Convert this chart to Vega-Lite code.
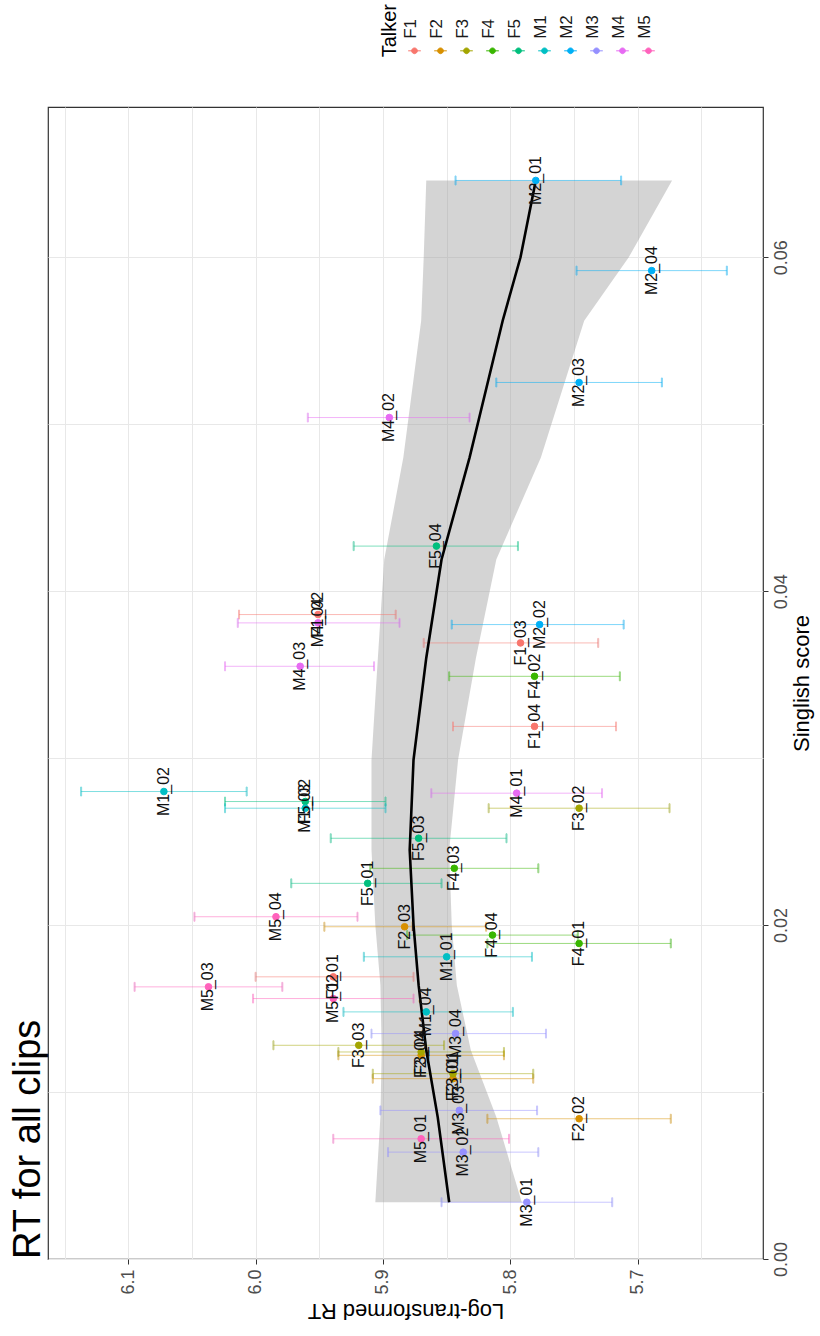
{
  "$schema": "https://vega.github.io/schema/vega-lite/v6.json",
  "autosize": {"type": "none"},
  "width": 715,
  "height": 1152,
  "padding": {"left": 48, "top": 107, "right": 57, "bottom": 77},
  "background": "white",
  "config": {
    "font": "Liberation Sans",
    "view": {"stroke": "#333333", "strokeWidth": 1.2},
    "axis": {
      "gridColor": "#e8e8e8",
      "gridWidth": 1,
      "domain": false,
      "labelColor": "#4d4d4d",
      "labelFont": "Liberation Sans",
      "labelFontSize": 18,
      "titleFont": "Liberation Sans",
      "titleFontSize": 22,
      "titleFontWeight": "normal",
      "titleColor": "#000000",
      "tickColor": "#333333",
      "tickSize": 5
    },
    "legend": {
      "orient": "none",
      "legendX": 332,
      "legendY": -65,
      "direction": "horizontal",
      "titleOrient": "left",
      "titleFontSize": 20,
      "titleFontWeight": "normal",
      "titleColor": "#000000",
      "labelFontSize": 17,
      "labelColor": "#1a1a1a",
      "labelOffset": 0,
      "symbolType": "M-1,0H1M0.45,0A0.45,0.45,0,1,1,-0.45,0A0.45,0.45,0,1,1,0.45,0Z",
      "symbolSize": 160,
      "symbolStrokeWidth": 1,
      "columnPadding": 4
    }
  },
  "title": {
    "text": "RT for all clips",
    "orient": "left",
    "anchor": "start",
    "frame": "group",
    "fontSize": 38,
    "fontWeight": "normal",
    "font": "Liberation Sans",
    "color": "#000000",
    "offset": 0
  },
  "datasets": {
    "clips": [
      {"talker": "F1", "clip": "F1_01", "rt": 5.939, "s": 0.0169, "lo": 5.876, "hi": 6.000},
      {"talker": "F1", "clip": "F1_02", "rt": 5.951, "s": 0.0386, "lo": 5.890, "hi": 6.013},
      {"talker": "F1", "clip": "F1_03", "rt": 5.792, "s": 0.0369, "lo": 5.731, "hi": 5.868},
      {"talker": "F1", "clip": "F1_04", "rt": 5.781, "s": 0.0319, "lo": 5.717, "hi": 5.845},
      {"talker": "F2", "clip": "F2_01", "rt": 5.845, "s": 0.0108, "lo": 5.782, "hi": 5.908},
      {"talker": "F2", "clip": "F2_02", "rt": 5.746, "s": 0.0084, "lo": 5.674, "hi": 5.818},
      {"talker": "F2", "clip": "F2_03", "rt": 5.883, "s": 0.0199, "lo": 5.819, "hi": 5.946},
      {"talker": "F2", "clip": "F2_04", "rt": 5.870, "s": 0.0122, "lo": 5.805, "hi": 5.935},
      {"talker": "F3", "clip": "F3_01", "rt": 5.845, "s": 0.0111, "lo": 5.782, "hi": 5.908},
      {"talker": "F3", "clip": "F3_02", "rt": 5.746, "s": 0.0270, "lo": 5.675, "hi": 5.817},
      {"talker": "F3", "clip": "F3_03", "rt": 5.919, "s": 0.0128, "lo": 5.852, "hi": 5.986},
      {"talker": "F3", "clip": "F3_04", "rt": 5.870, "s": 0.0124, "lo": 5.805, "hi": 5.935},
      {"talker": "F4", "clip": "F4_01", "rt": 5.746, "s": 0.0189, "lo": 5.674, "hi": 5.818},
      {"talker": "F4", "clip": "F4_02", "rt": 5.781, "s": 0.0349, "lo": 5.714, "hi": 5.848},
      {"talker": "F4", "clip": "F4_03", "rt": 5.844, "s": 0.0234, "lo": 5.778, "hi": 5.910},
      {"talker": "F4", "clip": "F4_04", "rt": 5.814, "s": 0.0194, "lo": 5.747, "hi": 5.881},
      {"talker": "F5", "clip": "F5_01", "rt": 5.912, "s": 0.0225, "lo": 5.854, "hi": 5.972},
      {"talker": "F5", "clip": "F5_02", "rt": 5.961, "s": 0.0274, "lo": 5.898, "hi": 6.024},
      {"talker": "F5", "clip": "F5_03", "rt": 5.872, "s": 0.0252, "lo": 5.803, "hi": 5.941},
      {"talker": "F5", "clip": "F5_04", "rt": 5.858, "s": 0.0427, "lo": 5.794, "hi": 5.923},
      {"talker": "M1", "clip": "M1_01", "rt": 5.850, "s": 0.0181, "lo": 5.783, "hi": 5.915},
      {"talker": "M1", "clip": "M1_02", "rt": 6.072, "s": 0.0280, "lo": 6.007, "hi": 6.137},
      {"talker": "M1", "clip": "M1_03", "rt": 5.961, "s": 0.0270, "lo": 5.898, "hi": 6.024},
      {"talker": "M1", "clip": "M1_04", "rt": 5.866, "s": 0.0148, "lo": 5.798, "hi": 5.931},
      {"talker": "M2", "clip": "M2_01", "rt": 5.780, "s": 0.0646, "lo": 5.713, "hi": 5.843},
      {"talker": "M2", "clip": "M2_02", "rt": 5.777, "s": 0.0380, "lo": 5.711, "hi": 5.846},
      {"talker": "M2", "clip": "M2_03", "rt": 5.746, "s": 0.0525, "lo": 5.681, "hi": 5.811},
      {"talker": "M2", "clip": "M2_04", "rt": 5.689, "s": 0.0592, "lo": 5.630, "hi": 5.748},
      {"talker": "M3", "clip": "M3_01", "rt": 5.787, "s": 0.0034, "lo": 5.720, "hi": 5.854},
      {"talker": "M3", "clip": "M3_02", "rt": 5.837, "s": 0.0064, "lo": 5.778, "hi": 5.896},
      {"talker": "M3", "clip": "M3_03", "rt": 5.840, "s": 0.0089, "lo": 5.779, "hi": 5.902},
      {"talker": "M3", "clip": "M3_04", "rt": 5.843, "s": 0.0135, "lo": 5.772, "hi": 5.909},
      {"talker": "M4", "clip": "M4_01", "rt": 5.795, "s": 0.0279, "lo": 5.728, "hi": 5.862},
      {"talker": "M4", "clip": "M4_02", "rt": 5.895, "s": 0.0504, "lo": 5.832, "hi": 5.959},
      {"talker": "M4", "clip": "M4_03", "rt": 5.965, "s": 0.0355, "lo": 5.907, "hi": 6.024},
      {"talker": "M4", "clip": "M4_04", "rt": 5.951, "s": 0.0381, "lo": 5.887, "hi": 6.014},
      {"talker": "M5", "clip": "M5_01", "rt": 5.870, "s": 0.0072, "lo": 5.801, "hi": 5.939},
      {"talker": "M5", "clip": "M5_02", "rt": 5.939, "s": 0.0156, "lo": 5.876, "hi": 6.002},
      {"talker": "M5", "clip": "M5_03", "rt": 6.037, "s": 0.0163, "lo": 5.979, "hi": 6.095},
      {"talker": "M5", "clip": "M5_04", "rt": 5.984, "s": 0.0205, "lo": 5.920, "hi": 6.048}
    ],
    "smooth": [
      {"s": 0.0034, "fit": 5.848, "lo": 5.791, "hi": 5.906},
      {"s": 0.0085, "fit": 5.857, "lo": 5.811, "hi": 5.902},
      {"s": 0.0125, "fit": 5.866, "lo": 5.831, "hi": 5.901},
      {"s": 0.0164, "fit": 5.872, "lo": 5.842, "hi": 5.902},
      {"s": 0.0200, "fit": 5.876, "lo": 5.846, "hi": 5.906},
      {"s": 0.0245, "fit": 5.879, "lo": 5.848, "hi": 5.909},
      {"s": 0.0299, "fit": 5.876, "lo": 5.841, "hi": 5.909},
      {"s": 0.0360, "fit": 5.866, "lo": 5.827, "hi": 5.904},
      {"s": 0.0419, "fit": 5.854, "lo": 5.811, "hi": 5.899},
      {"s": 0.0480, "fit": 5.832, "lo": 5.776, "hi": 5.884},
      {"s": 0.0562, "fit": 5.806, "lo": 5.742, "hi": 5.870},
      {"s": 0.0600, "fit": 5.792, "lo": 5.707, "hi": 5.868},
      {"s": 0.0646, "fit": 5.780, "lo": 5.673, "hi": 5.866}
    ]
  },
  "encoding": {
    "y": {
      "field": "s",
      "type": "quantitative",
      "title": "Singlish score",
      "scale": {"domain": [0, 0.069], "nice": false, "zero": false},
      "axis": {
        "orient": "right",
        "titleAngle": 270,
        "titleBaseline": "top",
        "titlePadding": 1,
        "values": [0, 0.01, 0.02, 0.03, 0.04, 0.05, 0.06],
        "labelExpr": "round(datum.value * 100) % 2 == 0 ? format(datum.value, '.2f') : ''",
        "labelAngle": 270,
        "labelAlign": "center",
        "labelBaseline": "top",
        "labelPadding": 4,
        "tickOpacity": {"condition": {"test": "round(datum.value * 100) % 2 == 0", "value": 1}, "value": 0}
      }
    }
  },
  "layer": [
    {
      "data": {"name": "smooth"},
      "mark": {"type": "area", "orient": "horizontal", "color": "#999999", "opacity": 0.42},
      "encoding": {
        "x": {
          "field": "lo",
          "type": "quantitative",
          "title": "Log-transformed RT",
          "scale": {"domain": [5.6016, 6.163], "reverse": true, "nice": false, "zero": false},
          "axis": {
            "orient": "bottom",
            "titleAngle": 180,
            "titleBaseline": "bottom",
            "titlePadding": 4,
            "values": [5.65, 5.7, 5.75, 5.8, 5.85, 5.9, 5.95, 6.0, 6.05, 6.1, 6.15],
            "labelExpr": "round(datum.value * 20) % 2 == 0 ? format(datum.value, '.1f') : ''",
            "labelAngle": 270,
            "labelAlign": "right",
            "labelBaseline": "middle",
            "labelPadding": 5,
            "tickOpacity": {"condition": {"test": "round(datum.value * 20) % 2 == 0", "value": 1}, "value": 0}
          }
        },
        "x2": {"field": "hi"}
      }
    },
    {
      "data": {"name": "clips"},
      "mark": {"type": "errorbar", "ticks": {"size": 9, "thickness": 1}, "opacity": 0.5, "thickness": 1},
      "encoding": {
        "x": {"field": "lo", "type": "quantitative", "title": "Log-transformed RT"},
        "x2": {"field": "hi"},
        "stroke": {"field": "talker", "type": "nominal", "title": "Talker"}
      }
    },
    {
      "data": {"name": "smooth"},
      "mark": {"type": "line", "color": "#000000", "strokeWidth": 2.6},
      "encoding": {
        "x": {"field": "fit", "type": "quantitative", "title": "Log-transformed RT"},
        "order": {"field": "s", "type": "quantitative"}
      }
    },
    {
      "data": {"name": "clips"},
      "mark": {"type": "point", "filled": false, "size": 44, "opacity": 1, "strokeWidth": 1},
      "encoding": {
        "x": {"field": "rt", "type": "quantitative", "title": "Log-transformed RT"},
        "fill": {
          "field": "talker",
          "type": "nominal",
          "title": "Talker",
          "scale": {
            "domain": ["F1", "F2", "F3", "F4", "F5", "M1", "M2", "M3", "M4", "M5"],
            "range": ["#F8766D", "#D89000", "#A3A500", "#39B600", "#00BF7D", "#00BFC4", "#00B0F6", "#9590FF", "#E76BF3", "#FF62BC"]
          },
          "legend": {
            "encoding": {
              "labels": {"angle": {"value": 270}, "align": {"value": "left"}, "baseline": {"value": "middle"}, "dx": {"value": 12}, "dy": {"value": -12}},
              "title": {"angle": {"value": 270}, "align": {"value": "right"}, "baseline": {"value": "top"}, "dx": {"value": 45}}
            }
          }
        },
        "stroke": {
          "field": "talker",
          "type": "nominal",
          "title": "Talker",
          "scale": {
            "domain": ["F1", "F2", "F3", "F4", "F5", "M1", "M2", "M3", "M4", "M5"],
            "range": ["#F8766D", "#D89000", "#A3A500", "#39B600", "#00BF7D", "#00BFC4", "#00B0F6", "#9590FF", "#E76BF3", "#FF62BC"]
          },
          "legend": {
            "encoding": {
              "labels": {"angle": {"value": 270}, "align": {"value": "left"}, "baseline": {"value": "middle"}, "dx": {"value": 12}, "dy": {"value": -12}},
              "title": {"angle": {"value": 270}, "align": {"value": "right"}, "baseline": {"value": "top"}, "dx": {"value": 45}}
            }
          }
        }
      }
    },
    {
      "data": {"name": "clips"},
      "mark": {"type": "text", "angle": 270, "align": "center", "baseline": "middle", "fontSize": 16, "color": "#111111", "font": "Liberation Sans"},
      "encoding": {
        "x": {"field": "rt", "type": "quantitative", "title": "Log-transformed RT"},
        "text": {"field": "clip", "type": "nominal"}
      }
    }
  ]
}
